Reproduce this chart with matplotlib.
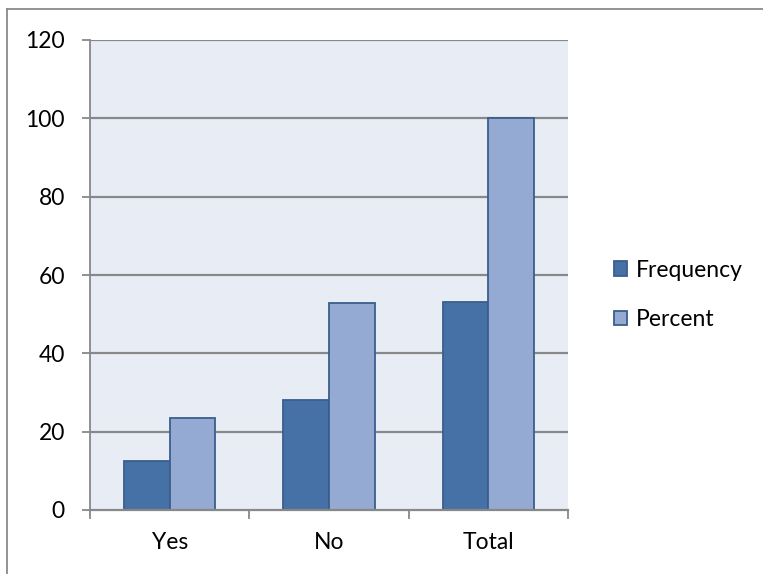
import numpy as np
import matplotlib
matplotlib.use("Agg")
import matplotlib.pyplot as plt
from matplotlib.lines import Line2D

# =========================
# Data
# =========================
categories = ["Yes", "No", "Total"]
frequency = [12.5, 28, 53]
percent = [23.6, 52.8, 100]
y_ticks = [0, 20, 40, 60, 80, 100, 120]

plt.rcParams["font.family"] = ["Lato", "DejaVu Sans"]

freq_color = "#4571A6"
pct_color = "#95AAD3"
edge_color = "#3A5E8C"
grid_color = "#888888"
fs = 16.5

# =========================
# Figure
# =========================
fig = plt.figure(figsize=(7.63, 5.74), dpi=100)
ax = fig.add_axes([90 / 763, 1 - 510 / 574, (568 - 90) / 763, (510 - 40) / 574])
ax.set_facecolor("#E8ECF5")

x = np.arange(len(categories))
w = 1 / 3.5

ax.bar(x - w / 2, frequency, w, color=freq_color, edgecolor=edge_color,
       linewidth=1.3, label="Frequency", zorder=3)
ax.bar(x + w / 2, percent, w, color=pct_color, edgecolor=edge_color,
       linewidth=1.3, label="Percent", zorder=3)

ax.set_xlim(-0.5, 2.5)
ax.set_ylim(0, 120)
ax.set_yticks(y_ticks)
ax.set_yticklabels([str(t) for t in y_ticks], fontsize=fs)

# gridlines
for t in y_ticks[1:]:
    ax.axhline(t, color=grid_color, linewidth=1.6, zorder=1)

# x axis: ticks between categories
ax.set_xticks(x)
ax.set_xticklabels(categories, fontsize=fs)
ax.tick_params(axis="x", length=0, pad=16)
for b in [-0.5, 0.5, 1.5, 2.5]:
    ax.plot([b, b], [0, -0.017], transform=ax.get_xaxis_transform(),
            color=grid_color, linewidth=1.3, clip_on=False, zorder=4)

ax.tick_params(axis="y", length=6, width=1.3, color=grid_color, pad=12)

for s in ["top", "right"]:
    ax.spines[s].set_visible(False)
ax.spines["left"].set_color(grid_color)
ax.spines["left"].set_linewidth(1.3)
ax.spines["bottom"].set_color(grid_color)
ax.spines["bottom"].set_linewidth(1.6)
ax.spines["left"].set_zorder(4)
ax.spines["bottom"].set_zorder(4)

# legend
ax.legend(loc="center left", bbox_to_anchor=(605 / 763, 1 - 295 / 574),
          bbox_transform=fig.transFigure, frameon=False, fontsize=fs,
          handlelength=0.58, handleheight=0.58, handletextpad=0.35,
          labelspacing=1.25, borderaxespad=0)

# chart border (top and left visible)
fig.add_artist(Line2D([7 / 763, 1], [1 - 9 / 574, 1 - 9 / 574],
                      transform=fig.transFigure, color="#8A8A8A", linewidth=1.3))
fig.add_artist(Line2D([7 / 763, 7 / 763], [0, 1 - 9 / 574],
                      transform=fig.transFigure, color="#8A8A8A", linewidth=1.3))

fig.savefig("out.png", dpi=100)
